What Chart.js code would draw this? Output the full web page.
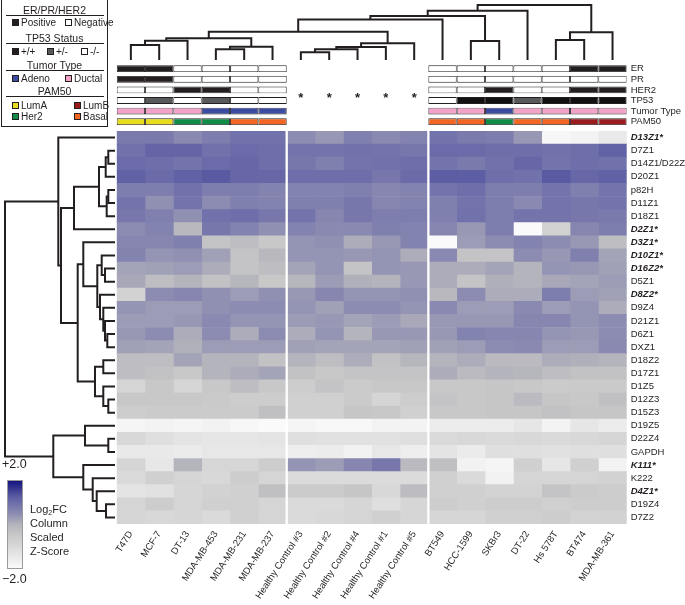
<!DOCTYPE html>
<html>
<head>
<meta charset="utf-8">
<script src="https://cdn.jsdelivr.net/npm/chart.js@4.4.1/dist/chart.umd.min.js"></script>
<style>
  body { margin: 0; background: #fff; }
  #wrap { position: relative; width: 685px; height: 605px; overflow: hidden;
          font-family: "Liberation Sans", Arial, sans-serif; color: #231f20; }
  #wrap canvas { position: absolute; left: 0; top: 0; }
  #key { position: absolute; left: 1px; top: -1px; width: 107px; height: 128px;
         border: 1px solid #231f20; box-sizing: border-box; }
  .kt { position: absolute; left: 0; width: 105px; text-align: center; font-size: 10.5px; line-height: 12px; }
  .kl { position: absolute; left: 4px; width: 98px; border-top: 1px solid #231f20; }
  .ki { position: absolute; font-size: 10px; line-height: 12px; white-space: nowrap; }
  .sw { display: inline-block; width: 5px; height: 5px; border: 1px solid #231f20;
        margin-right: 2px; vertical-align: 0px; }
  #cbar { position: absolute; left: 7px; top: 480px; width: 16px; height: 89px;
          border: 1px solid #9a9a9a; box-sizing: border-box; }
  .cb { position: absolute; font-size: 12.5px; line-height: 14px; }
  #cbtext { position: absolute; left: 30px; top: 502px; font-size: 11px; line-height: 14px; }
  #cbtext sub { font-size: 7px; line-height: 0; vertical-align: -2px; }
</style>
</head>
<body>
<div id="wrap">
  <canvas id="colTree" width="685" height="605"></canvas>
  <canvas id="rowTree" width="685" height="605"></canvas>
  <canvas id="annot" width="685" height="605"></canvas>
  <canvas id="heat" width="685" height="605"></canvas>

  <div id="key">
    <div class="kt" style="top:4px">ER/PR/HER2</div>
    <div class="kl" style="top:15px"></div>
    <span class="ki" style="left:10px;top:17px"><i class="sw" style="background:#231f20"></i>Positive</span>
    <span class="ki" style="left:63px;top:17px"><i class="sw" style="background:#fff"></i>Negative</span>
    <div class="kt" style="top:32px">TP53 Status</div>
    <div class="kl" style="top:43px"></div>
    <span class="ki" style="left:10px;top:46px"><i class="sw" style="background:#231f20"></i>+/+</span>
    <span class="ki" style="left:45px;top:46px"><i class="sw" style="background:#58595b"></i>+/-</span>
    <span class="ki" style="left:79px;top:46px"><i class="sw" style="background:#fff"></i>-/-</span>
    <div class="kt" style="top:59px">Tumor Type</div>
    <div class="kl" style="top:70px"></div>
    <span class="ki" style="left:10px;top:73px"><i class="sw" style="background:#3b4ba0"></i>Adeno</span>
    <span class="ki" style="left:63px;top:73px"><i class="sw" style="background:#f4a3c8"></i>Ductal</span>
    <div class="kt" style="top:85px">PAM50</div>
    <div class="kl" style="top:96px"></div>
    <span class="ki" style="left:10px;top:100px"><i class="sw" style="background:#e8dc1e"></i>LumA</span>
    <span class="ki" style="left:72px;top:100px"><i class="sw" style="background:#9b1c1f"></i>LumB</span>
    <span class="ki" style="left:10px;top:111px"><i class="sw" style="background:#0f8c47"></i>Her2</span>
    <span class="ki" style="left:72px;top:111px"><i class="sw" style="background:#f26522"></i>Basal</span>
  </div>

  <div class="cb" style="left:2px;top:457px">+2.0</div>
  <div id="cbar"></div>
  <div class="cb" style="left:2px;top:572px">&minus;2.0</div>
  <div id="cbtext">Log<sub>2</sub>FC<br>Column<br>Scaled<br>Z-Score</div>
</div>

<script>
const INK = '#231f20';

// columns (cell lines and healthy controls), in dendrogram order
const colNames = ['T47D', 'MCF-7', 'DT-13', 'MDA-MB-453', 'MDA-MB-231', 'MDA-MB-237',
  'Healthy Control #3', 'Healthy Control #2', 'Healthy Control #4', 'Healthy Control #1', 'Healthy Control #5',
  'BT549', 'HCC-1599', 'SKBr3', 'DT-22', 'Hs 578T', 'BT474', 'MDA-MB-361'];

// rows (repeat elements), in dendrogram order
const rowNames = ['D13Z1*', 'D7Z1', 'D14Z1/D22Z1', 'D20Z1', 'p82H', 'D11Z1', 'D18Z1', 'D2Z1*',
  'D3Z1*', 'D10Z1*', 'D16Z2*', 'D5Z1', 'D8Z2*', 'D9Z4', 'D21Z1', 'D6Z1', 'DXZ1', 'D18Z2',
  'D17Z1', 'D1Z5', 'D12Z3', 'D15Z3', 'D19Z5', 'D22Z4', 'GAPDH', 'K111*', 'K222', 'D4Z1*',
  'D19Z4', 'D7Z2'];

// column scaled z-scores, one row per repeat element
const zScores = [
  [0.8, 0.8, 0.55, 0.75, 0.95, 0.95, 0.5, 0.35, 0.7, 0.55, 0.65, 0.9, 0.8, 0.75, 0.35, -1.9, -1.8, -1.5],
  [0.95, 1.15, 1.15, 0.95, 1.05, 1.0, 0.9, 0.9, 0.95, 0.9, 0.85, 1.05, 1.05, 1.0, 1.0, 0.95, 1.0, 1.2],
  [1.05, 1.0, 0.9, 1.05, 1.1, 1.0, 0.85, 0.7, 0.9, 0.95, 1.0, 0.9, 0.8, 0.95, 1.1, 0.9, 1.0, 0.95],
  [1.2, 1.05, 1.2, 1.3, 1.1, 1.1, 1.0, 1.0, 1.0, 0.85, 1.05, 1.25, 1.25, 1.0, 0.95, 1.3, 1.1, 1.2],
  [0.75, 0.75, 0.95, 0.75, 0.75, 0.65, 0.65, 0.65, 0.7, 0.6, 0.65, 0.9, 1.0, 0.75, 0.75, 0.9, 0.7, 0.9],
  [0.9, 0.45, 0.9, 0.5, 0.7, 0.65, 0.7, 0.7, 0.85, 0.6, 0.65, 0.7, 0.9, 0.75, 0.55, 0.9, 0.85, 0.9],
  [0.85, 0.7, 0.45, 0.95, 1.0, 0.85, 0.9, 0.6, 0.85, 0.75, 0.75, 0.7, 0.95, 0.75, 0.9, 0.9, 0.85, 0.8],
  [0.5, 0.65, -0.1, 0.85, 0.65, 0.45, 0.65, 0.55, 0.55, 0.7, 0.65, 0.6, 0.35, 0.75, -2, -0.8, 0.6, 0.75],
  [0.6, 0.6, 0.7, -0.4, -0.25, -0.5, 0.4, 0.45, 0.1, 0.35, 0.65, -2, 0.3, 0.5, 0.65, 0.5, 0.35, -0.25],
  [0.65, 0.4, 0.45, 0.25, -0.4, -0.1, 0.4, 0.4, 0.35, 0.4, 0.1, 0.55, -0.4, -0.4, 0.5, 0.35, 0.7, 0.2],
  [0.2, 0.25, 0.3, 0.1, -0.4, -0.25, 0.2, 0.4, -0.4, 0.4, 0.35, 0.1, 0.1, 0.2, 0, 0.4, 0.35, 0.25],
  [0.15, -0.25, 0, -0.35, -0.05, -0.5, -0.05, 0.3, 0.05, 0, 0.35, 0.1, -0.4, 0.05, 0, 0.15, 0.2, 0.3],
  [-0.8, 0.5, 0.6, 0.45, 0.3, 0.45, 0.35, 0.6, 0.4, 0.4, 0.45, -0.1, 0.5, 0.1, 0.1, 0.75, 0.3, 0.25],
  [0.4, 0.3, 0.3, 0.45, 0.5, 0.5, 0.4, 0.25, 0.5, 0.5, 0.4, 0.55, 0.3, 0.3, 0.55, 0.3, 0.4, 0.1],
  [0.3, 0.3, 0.35, 0.55, 0.4, 0.4, 0.3, 0.35, 0.2, 0.3, 0.15, 0.35, 0.35, 0.35, 0.6, 0.6, 0.4, 0.5],
  [0.35, 0.5, 0.1, 0.5, 0.1, 0.5, 0.1, 0.4, 0, 0.35, 0.35, 0.35, 0.65, 0.6, 0.6, 0.4, 0.35, 0.5],
  [0.25, 0.2, 0.05, 0.3, 0.3, 0.3, 0.25, 0.2, 0.2, 0.2, 0.25, 0.25, 0.3, 0.5, 0.55, 0.3, 0.3, 0.55],
  [-0.25, -0.25, 0.2, 0, 0, -0.35, 0, -0.25, 0.1, -0.35, -0.05, 0, 0.1, -0.15, -0.15, 0.1, 0.05, 0],
  [-0.25, -0.35, -0.5, 0, 0.1, 0.2, -0.35, -0.5, -0.4, -0.4, -0.4, 0.1, -0.15, 0, -0.05, -0.25, -0.35, -0.35],
  [-0.9, -0.5, -0.9, -0.5, -0.25, -0.5, -0.65, -0.4, -0.6, -0.5, -0.5, -0.5, -0.5, -0.45, -0.5, -0.6, -0.55, -0.55],
  [-0.5, -0.5, -0.5, -0.55, -0.65, -0.65, -0.75, -0.75, -0.6, -0.9, -0.65, -0.4, -0.5, -0.45, -0.15, -0.45, -0.5, -0.3],
  [-0.65, -0.6, -0.6, -0.6, -0.6, -0.3, -0.75, -0.75, -0.45, -0.5, -0.75, -0.5, -0.5, -0.45, -0.45, -0.35, -0.45, -0.45],
  [-1.85, -1.8, -1.85, -1.75, -1.9, -2, -1.85, -1.95, -1.95, -1.8, -1.8, -1.6, -1.6, -1.6, -1.4, -1.8, -1.4, -1.6],
  [-1.0, -1.2, -1.35, -1.4, -1.4, -1.35, -1.2, -1.25, -1.25, -1.25, -1.2, -1.05, -1.0, -1.05, -1.0, -1.05, -1.0, -0.9],
  [-1.5, -1.5, -1.55, -1.45, -1.45, -1.45, -1.65, -1.6, -1.75, -1.45, -1.65, -1.35, -1.55, -1.2, -1.2, -1.25, -1.2, -1.2],
  [-0.9, -1.45, 0, -0.95, -0.95, -0.65, 0.4, 0.3, 0.6, 0.85, -0.15, -0.3, -1.75, -1.85, -0.75, -1.4, -0.75, -1.75],
  [-1.05, -0.75, -0.9, -1.0, -0.65, -0.9, -1.1, -1.1, -1.1, -1.1, -1.1, -0.75, -1.05, -1.75, -0.9, -0.9, -0.9, -0.8],
  [-1.35, -1.25, -0.95, -0.8, -0.75, -0.3, -0.6, -0.6, -0.45, -1.0, -0.2, -0.75, -0.75, -0.85, -0.85, -0.4, -0.6, -0.65],
  [-0.9, -0.65, -0.9, -0.75, -0.75, -0.9, -1.05, -1.05, -0.95, -1.2, -0.95, -0.65, -0.75, -0.65, -0.65, -0.75, -0.65, -0.65],
  [-0.9, -1.0, -0.95, -1.05, -0.75, -0.9, -1.05, -1.0, -0.9, -0.75, -0.95, -0.95, -0.95, -0.75, -0.75, -0.65, -0.85, -0.8],
];

// white gaps between column groups
const groupBreaks = [5.5, 10.5];

// sample annotations (null = healthy control, no annotation)
const annotLabels = ['ER', 'PR', 'HER2', 'TP53', 'Tumor Type', 'PAM50'];
const erStatus    = ['pos', 'pos', 'neg', 'neg', 'neg', 'neg', null, null, null, null, null, 'neg', 'neg', 'neg', 'neg', 'neg', 'pos', 'pos'];
const prStatus    = ['pos', 'pos', 'neg', 'neg', 'neg', 'neg', null, null, null, null, null, 'neg', 'neg', 'neg', 'neg', 'neg', 'neg', 'neg'];
const her2Status  = ['neg', 'neg', 'pos', 'pos', 'neg', 'neg', null, null, null, null, null, 'neg', 'neg', 'pos', 'neg', 'neg', 'pos', 'pos'];
const tp53Status  = ['-/-', '+/-', '-/-', '+/-', '-/-', '-/-', null, null, null, null, null, '-/-', '+/+', '+/+', '+/-', '+/+', '+/+', '+/+'];
const tumorType   = ['Ductal', 'Ductal', 'Ductal', 'Adeno', 'Adeno', 'Adeno', null, null, null, null, null, 'Ductal', 'Ductal', 'Adeno', 'Ductal', 'Ductal', 'Ductal', 'Ductal'];
const pam50       = ['LumA', 'LumA', 'Her2', 'Her2', 'Basal', 'Basal', null, null, null, null, null, 'Basal', 'Basal', 'Her2', 'Basal', 'Basal', 'LumB', 'LumB'];

// dendrograms: [node a, node b, height]; leaves are 0..n-1, merges numbered from n
const colLinkage = [
  [0, 1, 15], [18, 2, 19.3], [3, 4, 10.7], [20, 5, 13.3], [19, 21, 21.7],
  [6, 7, 7.7], [23, 8, 10.7], [24, 9, 13], [25, 10, 16.7], [22, 26, 28.3],
  [27, 11, 40.5], [12, 13, 19], [28, 29, 44], [30, 14, 49.3], [15, 16, 20],
  [32, 17, 27.7], [31, 33, 55],
];
const rowLinkage = [
  [1, 2, 6.7], [30, 3, 9.3], [4, 5, 6.7], [32, 6, 8.3], [31, 33, 16], [34, 7, 41],
  [10, 11, 10], [9, 36, 13.3], [15, 16, 7.7], [14, 38, 10], [13, 39, 11.7], [12, 40, 15],
  [37, 41, 17.7], [8, 42, 31.7], [17, 18, 11.7], [20, 21, 6.7], [19, 45, 11.7], [44, 46, 20],
  [43, 47, 37.3], [35, 48, 54], [0, 49, 56.7], [23, 24, 6.7], [22, 51, 30], [28, 29, 9],
  [27, 53, 18.3], [26, 54, 22.3], [25, 55, 31.7], [52, 56, 61.7], [50, 57, 110],
];

// colour scale: white (-2) -> gray (0) -> navy (+2)
const zStops = [
  [-2, [250, 250, 250]], [-1, [216, 216, 216]], [-0.5, [200, 200, 200]], [0, [180, 180, 188]],
  [0.5, [140, 140, 178]], [1, [110, 110, 170]], [1.3, [90, 90, 162]], [2, [20, 20, 128]],
];
const annotColors = {
  pos: INK, neg: '#ffffff', '+/+': '#111111', '+/-': '#58595b', '-/-': '#ffffff',
  Adeno: '#3b4ba0', Ductal: '#f4a3c8', LumA: '#e8dc1e', LumB: '#9b1c1f', Her2: '#0f8c47', Basal: '#f26522',
};

function zColor(v) {
  for (let i = 1; i < zStops.length; i++) {
    const [v0, c0] = zStops[i - 1];
    const [v1, c1] = zStops[i];
    if (v <= v1 || i === zStops.length - 1) {
      const t = Math.max(0, Math.min(1, (v - v0) / (v1 - v0)));
      const c = c0.map((a, k) => Math.round(a + (c1[k] - a) * t));
      return `rgb(${c[0]},${c[1]},${c[2]})`;
    }
  }
}

Chart.defaults.font.family = '"Liberation Sans", Arial, sans-serif';
Chart.defaults.color = INK;
Chart.defaults.animation = false;
Chart.defaults.responsive = false;
Chart.defaults.events = [];
Chart.defaults.plugins.legend.display = false;
Chart.defaults.plugins.tooltip.enabled = false;

// geometry of the heatmap block
const LEFT = 116.7, RIGHT_AXIS = 58.3, TOP = 131, BOTTOM_AXIS = 81;

// colour bar legend
document.getElementById('cbar').style.background =
  'linear-gradient(to top,' + zStops.map(([v]) => `${zColor(v)} ${((v + 2) / 4 * 100).toFixed(1)}%`).join(',') + ')';

// heatmap: one floating-bar dataset per column
const groupGaps = {
  id: 'groupGaps',
  afterDatasetsDraw(chart) {
    const { ctx, chartArea, scales: { x } } = chart;
    ctx.save();
    ctx.strokeStyle = '#fff';
    ctx.lineWidth = 2.3;
    groupBreaks.forEach(b => {
      const px = x.getPixelForValue(b);
      ctx.beginPath();
      ctx.moveTo(px, chartArea.top);
      ctx.lineTo(px, chartArea.bottom);
      ctx.stroke();
    });
    ctx.restore();
  }
};

new Chart(document.getElementById('heat'), {
  type: 'bar',
  data: {
    labels: rowNames,
    datasets: colNames.map((name, c) => ({
      label: name,
      data: rowNames.map(() => [c - 0.5, c + 0.5]),
      backgroundColor: zScores.map(row => zColor(row[c])),
      borderWidth: 0,
      barPercentage: 1,
      categoryPercentage: 1,
      grouped: false,
    }))
  },
  options: {
    indexAxis: 'y',
    layout: { padding: { left: LEFT, top: TOP, right: 0, bottom: 0 } },
    scales: {
      x: {
        type: 'linear', min: -0.5, max: 17.5, position: 'bottom',
        afterBuildTicks: s => { s.ticks = colNames.map((_, i) => ({ value: i })); },
        afterFit: s => { s.height = BOTTOM_AXIS; },
        grid: { display: false, drawTicks: false },
        border: { display: false },
        ticks: {
          callback: v => colNames[v],
          autoSkip: false, minRotation: 57, maxRotation: 57, padding: 5,
          font: { size: 9.5 }
        }
      },
      y: {
        type: 'category', position: 'right', offset: true,
        afterFit: s => { s.width = RIGHT_AXIS; },
        grid: { display: false, drawTicks: false },
        border: { display: false },
        ticks: {
          autoSkip: false, padding: 4,
          font: ctx => {
            const star = rowNames[ctx.index].endsWith('*');
            return { size: 9.5, weight: star ? 'bold' : 'normal', style: star ? 'italic' : 'normal' };
          }
        }
      }
    }
  },
  plugins: [groupGaps]
});

// annotation tracks above the heatmap
const annotRows = [erStatus, prStatus, her2Status, tp53Status, tumorType, pam50];
const healthyStars = {
  id: 'healthyStars',
  afterDatasetsDraw(chart) {
    const { ctx, chartArea, scales: { x } } = chart;
    ctx.save();
    ctx.fillStyle = INK;
    ctx.font = 'bold 13px "Liberation Sans", Arial, sans-serif';
    ctx.textAlign = 'center';
    ctx.textBaseline = 'middle';
    erStatus.forEach((s, c) => {
      if (s === null) ctx.fillText('*', x.getPixelForValue(c), (chartArea.top + chartArea.bottom) / 2 + 3);
    });
    ctx.restore();
  }
};

new Chart(document.getElementById('annot'), {
  type: 'bar',
  data: {
    labels: annotLabels,
    datasets: colNames.map((name, c) => ({
      label: name,
      data: annotRows.map(r => r[c] === null ? null : [c - 0.5, c + 0.5]),
      backgroundColor: annotRows.map(r => annotColors[r[c]] || '#fff'),
      borderColor: INK,
      borderWidth: 0.9,
      borderSkipped: false,
      inflateAmount: 0,
      barPercentage: 0.64,
      categoryPercentage: 1,
      grouped: false,
    }))
  },
  options: {
    indexAxis: 'y',
    layout: { padding: { left: LEFT, top: 63.4, right: 0, bottom: 605 - 127 } },
    scales: {
      x: { type: 'linear', min: -0.5, max: 17.5, display: false },
      y: {
        type: 'category', position: 'right', offset: true,
        afterFit: s => { s.width = RIGHT_AXIS; },
        grid: { display: false, drawTicks: false },
        border: { display: false },
        ticks: { autoSkip: false, padding: 4, font: { size: 9.5 } }
      }
    }
  },
  plugins: [healthyStars]
});

// dendrogram U-shapes built from the linkage tables
function dendroDatasets(linkage, nLeaves, sideways) {
  const pos = [], hgt = [];
  for (let i = 0; i < nLeaves; i++) { pos[i] = i; hgt[i] = 0; }
  return linkage.map(([a, b, h], k) => {
    pos[nLeaves + k] = (pos[a] + pos[b]) / 2;
    hgt[nLeaves + k] = h;
    const pts = [[pos[a], hgt[a]], [pos[a], h], [pos[b], h], [pos[b], hgt[b]]];
    return {
      data: pts.map(([p, v]) => sideways ? { x: v, y: p } : { x: p, y: v }),
      showLine: true,
      borderColor: INK,
      borderWidth: 2,
      pointRadius: 0,
      tension: 0,
      clip: false,
    };
  });
}

new Chart(document.getElementById('colTree'), {
  type: 'scatter',
  data: { datasets: dendroDatasets(colLinkage, colNames.length, false) },
  options: {
    layout: { padding: { left: LEFT, right: RIGHT_AXIS, top: 5, bottom: 545 } },
    scales: {
      x: { type: 'linear', min: -0.5, max: 17.5, display: false },
      y: { type: 'linear', min: 0, max: 55, display: false }
    }
  }
});

new Chart(document.getElementById('rowTree'), {
  type: 'scatter',
  data: { datasets: dendroDatasets(rowLinkage, rowNames.length, true) },
  options: {
    layout: { padding: { left: 5, right: 570, top: TOP, bottom: BOTTOM_AXIS } },
    scales: {
      x: { type: 'linear', min: 0, max: 110, reverse: true, display: false },
      y: { type: 'linear', min: -0.5, max: 29.5, reverse: true, display: false }
    }
  }
});
</script>
</body>
</html>
